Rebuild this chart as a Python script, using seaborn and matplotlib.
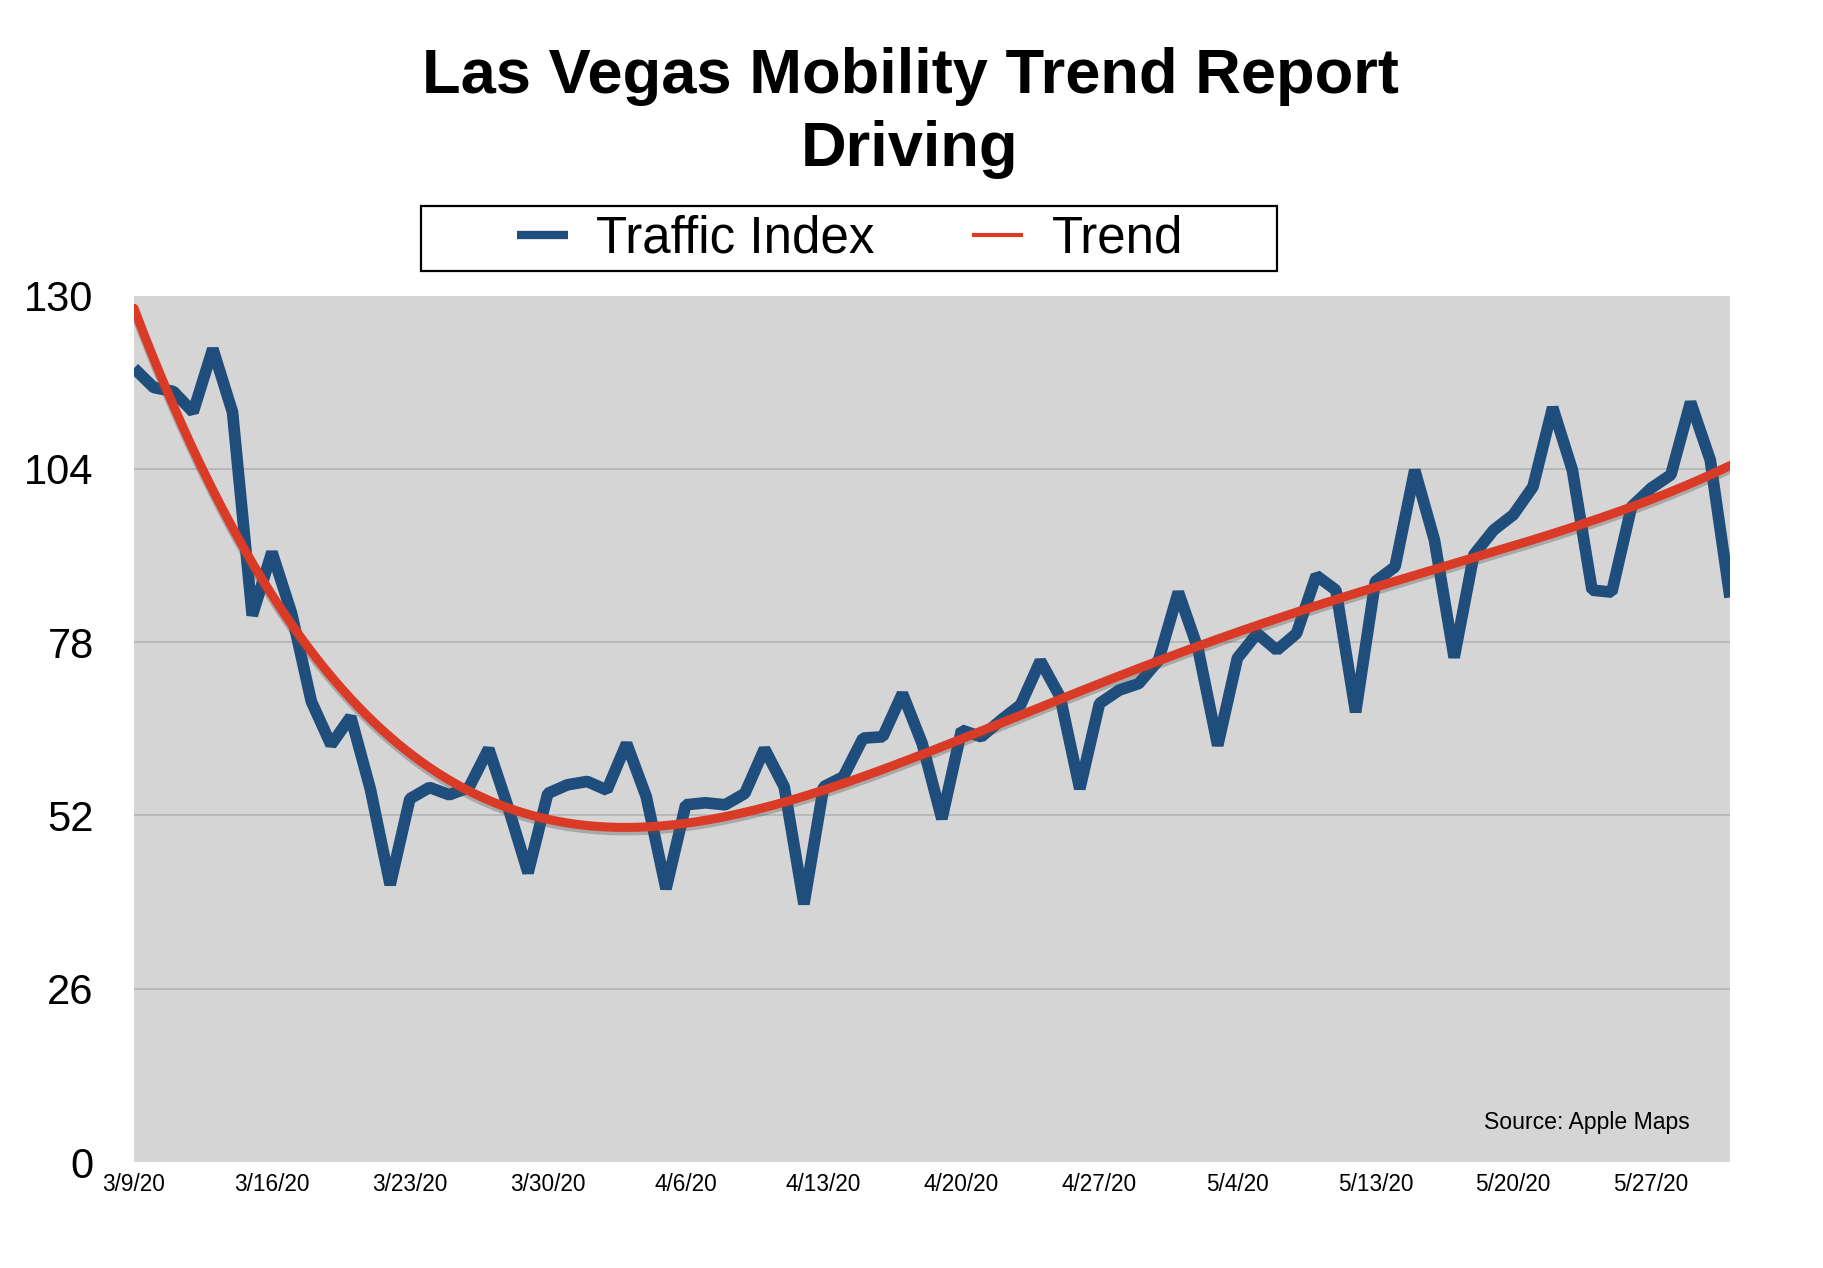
import numpy as np
import pandas as pd
import matplotlib
matplotlib.use("Agg")
import matplotlib.pyplot as plt
import matplotlib.patheffects as pe
from matplotlib.lines import Line2D
from matplotlib.patches import Rectangle
import seaborn as sns

# ---------------- data ----------------
# daily categories 3/9/20 .. 5/31/20 (5/11 and 5/12 missing in source)
all_days = pd.date_range("2020-03-09", "2020-05-31")
missing_days = pd.to_datetime(["2020-05-11", "2020-05-12"])
days = all_days[~all_days.isin(missing_days)]

traffic = [
    119.1, 116.2, 115.6, 112.5, 122.0, 112.5, 82.0, 91.5, 82.3, 69.1,
    62.6, 66.8, 55.9, 41.6, 54.5, 56.2, 55.1, 56.2, 62.0, 53.1,
    43.4, 55.3, 56.6, 57.1, 55.8, 62.8, 54.8, 41.0, 53.6, 53.9,
    53.6, 55.3, 62.0, 56.3, 38.7, 56.3, 57.8, 63.6, 63.8, 70.3,
    62.8, 51.5, 64.8, 63.8, 66.3, 68.6, 75.2, 69.8, 56.0, 68.8,
    70.8, 71.8, 75.3, 85.5, 77.0, 62.5, 75.6, 79.3, 76.8, 79.3,
    88.0, 85.8, 67.5, 87.1, 89.3, 103.8, 93.3, 75.7, 91.1, 94.8,
    97.1, 101.3, 113.2, 103.8, 85.8, 85.5, 98.3, 101.1, 103.1, 114.0,
    105.3, 84.7,
]
tick_labels = ["3/9/20", "3/16/20", "3/23/20", "3/30/20", "4/6/20", "4/13/20",
               "4/20/20", "4/27/20", "5/4/20", "5/13/20", "5/20/20", "5/27/20"]
y_ticks = [0, 26, 52, 78, 104, 130]
trend_degree = 4  # polynomial trendline, as in the original chart

idx = np.arange(len(traffic))
df = pd.DataFrame({"idx": idx, "day": days, "traffic": traffic})
coef = np.polyfit(df["idx"], df["traffic"], trend_degree)
xs = np.linspace(0, len(traffic) - 1, 400)
trend_df = pd.DataFrame({"idx": xs, "trend": np.polyval(coef, xs)})

# ---------------- style ----------------
sns.set_theme(style="white")
plt.rcParams["font.family"] = ["Liberation Sans", "DejaVu Sans"]
plt.rcParams["text.color"] = "black"
plt.rcParams["xtick.color"] = "black"
plt.rcParams["ytick.color"] = "black"

BLUE = "#1f4e7d"
RED = "#d93b26"
BG = "#d5d5d5"
GRID = "#b5b5b5"

W, H = 1824, 1268
fig = plt.figure(figsize=(W / 100, H / 100), dpi=100)
fig.patch.set_facecolor("white")

left, right, top, bottom = 134, 1730, 295.5, 1162.1
ax = fig.add_axes([left / W, 1 - bottom / H, (right - left) / W, (bottom - top) / H])
ax.set_facecolor(BG)

for y in y_ticks[1:]:
    ax.axhline(y, color=GRID, lw=1.3, zorder=1)

sns.lineplot(data=df, x="idx", y="traffic", ax=ax, color=BLUE, lw=8.4,
             zorder=3, legend=False)
for ln in ax.lines:
    if ln.get_linewidth() > 8:
        ln.set_solid_joinstyle("bevel")
        ln.set_solid_capstyle("butt")

sns.lineplot(data=trend_df, x="idx", y="trend", ax=ax, color=RED, lw=6.5,
             zorder=4, legend=False)
ax.lines[-1].set_path_effects([
    pe.SimpleLineShadow(offset=(0, -2.5), shadow_color="#555555", alpha=0.35),
    pe.Normal(),
])

ax.set_xlim(0, len(traffic) - 1)
ax.set_ylim(0, 130)
ax.set_xticks(idx[::7])
ax.set_xticklabels(tick_labels, fontsize=16.3, color="black")
ax.set_yticks(y_ticks)
ax.set_yticklabels([str(v) for v in y_ticks], fontsize=30, color="black")
ax.tick_params(axis="x", length=0, pad=8)
ax.tick_params(axis="y", length=0, pad=29)
ax.set_xlabel("")
ax.set_ylabel("")
for s in ax.spines.values():
    s.set_visible(False)
ax.grid(False)

ax.text(78.97, 5.9, "Source: Apple Maps", ha="right", va="center",
        fontsize=16.6, color="black", zorder=5)

# ---------------- title ----------------
fig.text(910 / W, 1 - 93 / H, "Las Vegas Mobility Trend Report", ha="center",
         va="baseline", fontsize=45.5, fontweight="bold", color="black")
fig.text(910 / W, 1 - 166 / H, "Driving", ha="center", va="baseline",
         fontsize=45.5, fontweight="bold", color="black")

# ---------------- legend ----------------
fig.patches.append(Rectangle((421 / W, 1 - 271 / H), (1277 - 421) / W, 65 / H,
                             transform=fig.transFigure, facecolor="white",
                             edgecolor="black", lw=1.6, zorder=0))
handles = [Line2D([], [], color=BLUE, lw=6.0, solid_capstyle="butt"),
           Line2D([], [], color=RED, lw=3.0, solid_capstyle="butt")]
leg = fig.legend(handles, ["Traffic Index", "Trend"], loc="center",
                 bbox_to_anchor=(850 / W, 1 - 239 / H), ncol=2, frameon=False,
                 fontsize=36.8, handlelength=1.0, handletextpad=0.56,
                 columnspacing=1.9, borderpad=0.0)
for t in leg.get_texts():
    t.set_color("black")

fig.savefig("out.png", dpi=100, facecolor="white")
